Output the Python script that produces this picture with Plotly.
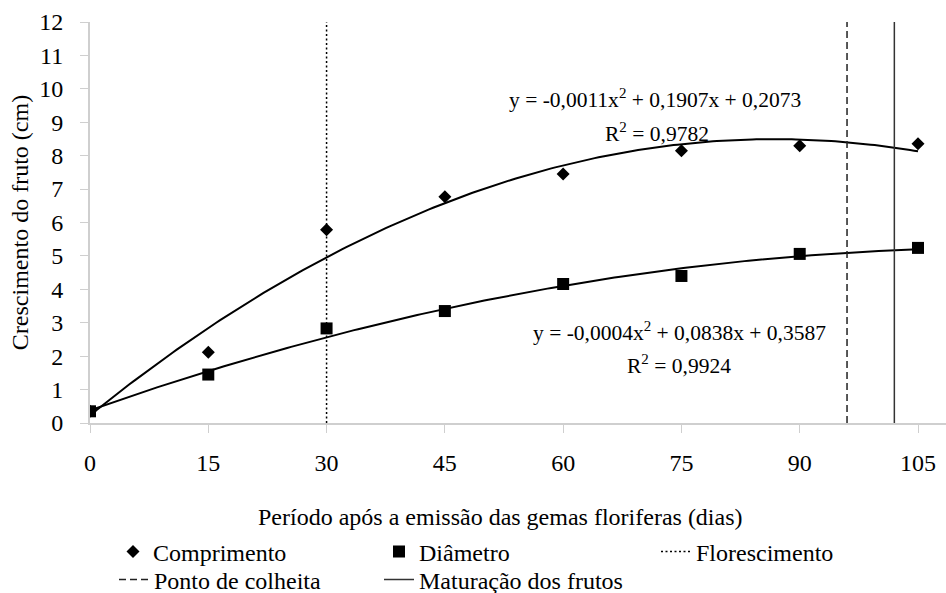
import numpy as np
import plotly.graph_objects as go

# ---- data ----
dias = [0, 15, 30, 45, 60, 75, 90, 105]
comprimento = [0.35, 2.12, 5.78, 6.77, 7.45, 8.15, 8.30, 8.36]
diametro = [0.35, 1.45, 2.83, 3.35, 4.16, 4.40, 5.06, 5.24]

# trendline labels printed on the chart
eq_comprimento = ["y = -0,0011x<sup>2</sup> + 0,1907x + 0,2073", "R<sup>2</sup> = 0,9782"]
eq_diametro = ["y = -0,0004x<sup>2</sup> + 0,0838x + 0,3587", "R<sup>2</sup> = 0,9924"]

# reference events (days)
florescimento_x = 30
colheita_x = 96
maturacao_x = 102
y_range = [0, 12]
x_ticks = [0, 15, 30, 45, 60, 75, 90, 105]
y_ticks = list(range(0, 13))

FONT = '"Liberation Serif", "Times New Roman", "DejaVu Serif", serif'

# second-order polynomial trendlines (least squares, as in the original)
xfit = np.linspace(0, 105, 211)
fit_c = np.polyfit(dias, comprimento, 2)
fit_d = np.polyfit(dias, diametro, 2)

fig = go.Figure()

fig.add_trace(go.Scatter(x=xfit, y=np.polyval(fit_c, xfit), mode="lines",
                         line=dict(color="black", width=2), showlegend=False, hoverinfo="skip"))
fig.add_trace(go.Scatter(x=xfit, y=np.polyval(fit_d, xfit), mode="lines",
                         line=dict(color="black", width=2), showlegend=False, hoverinfo="skip"))

# vertical reference lines
fig.add_trace(go.Scatter(x=[florescimento_x] * 2, y=y_range, mode="lines", name="Florescimento",
                         line=dict(color="black", width=1.5, dash="2px,2.5px"), legend="legend3"))
fig.add_trace(go.Scatter(x=[colheita_x] * 2, y=y_range, mode="lines", name="Ponto de colheita",
                         line=dict(color="#222222", width=1.5, dash="7px,4px"), legend="legend4"))
fig.add_trace(go.Scatter(x=[maturacao_x] * 2, y=y_range, mode="lines", name="Maturação dos frutos",
                         line=dict(color="#333333", width=1.5), legend="legend5"))

# data points
fig.add_trace(go.Scatter(x=dias, y=comprimento, mode="markers", name="Comprimento",
                         marker=dict(symbol="diamond", size=10, color="black"), legend="legend"))
fig.add_trace(go.Scatter(x=dias, y=diametro, mode="markers", name="Diâmetro",
                         marker=dict(symbol="square", size=12, color="black"), legend="legend2"))

W, H = 946, 593
L, R, T, B = 90, 0, 22, 170
PW, PH = W - L - R, H - T - B

def leg(left_px, yc_px):
    return dict(x=left_px / W, y=1 - yc_px / H, xref="container", yref="container",
                xanchor="left", yanchor="middle", bgcolor="rgba(0,0,0,0)",
                font=dict(family=FONT, size=24, color="black"), orientation="h",
                tracegroupgap=0)

ann = []
for txt, (xx, yy) in zip(eq_comprimento, [(71.6, 9.7), (71.9, 8.69)]):
    ann.append(dict(x=xx, y=yy, xref="x", yref="y", text=txt, showarrow=False,
                    font=dict(family=FONT, size=21.5, color="black")))
for txt, (xx, yy) in zip(eq_diametro, [(74.7, 2.73), (74.7, 1.74)]):
    ann.append(dict(x=xx, y=yy, xref="x", yref="y", text=txt, showarrow=False,
                    font=dict(family=FONT, size=21.5, color="black")))
ann.append(dict(x=(500 - L) / PW, y=(H - B - 517) / PH, xref="paper", yref="paper",
                text="Período após a emissão das gemas floriferas (dias)", showarrow=False,
                xanchor="center", yanchor="middle",
                font=dict(family=FONT, size=24, color="black")))

fig.update_layout(
    width=W, height=H,
    margin=dict(l=L, r=R, t=T, b=B, autoexpand=False),
    paper_bgcolor="white", plot_bgcolor="white",
    font=dict(family=FONT, size=24, color="black"),
    legend=leg(113, 552),
    legend2=leg(379, 552),
    legend3=leg(656, 552),
    legend4=leg(114, 580),
    legend5=leg(379, 580),
    annotations=ann,
    xaxis=dict(range=[0, 108.55], tickvals=x_ticks, showgrid=False, zeroline=False,
               showline=True, linecolor="#cfcfcf", linewidth=2, automargin=False,
               ticks="outside", ticklen=8, tickcolor="#cfcfcf", tickwidth=1,
               ticklabelstandoff=9, tickfont=dict(family=FONT, size=24)),
    yaxis=dict(range=y_range, tickvals=y_ticks, showgrid=False, zeroline=False,
               showline=True, linecolor="#cfcfcf", linewidth=2, automargin=False,
               ticks="outside", ticklen=8, tickcolor="#cfcfcf", tickwidth=1,
               ticklabelstandoff=12, tickfont=dict(family=FONT, size=24),
               title=dict(text="Crescimento do fruto (cm)", standoff=4,
                          font=dict(family=FONT, size=24))),
)

fig.write_html("out.html", config={"displayModeBar": False},
               post_script="document.body.style.margin='0px';")
